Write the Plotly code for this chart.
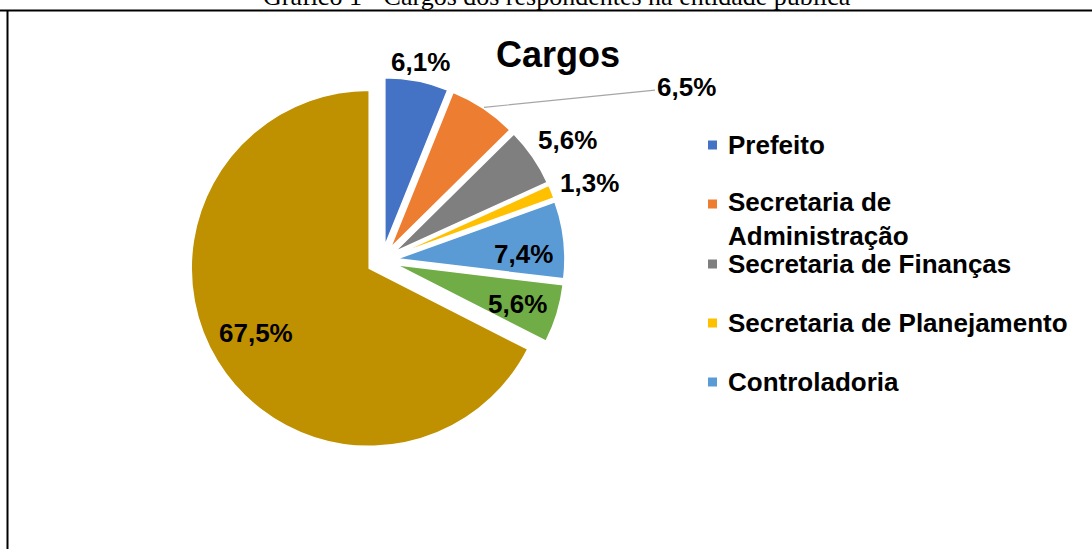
import math
import plotly.graph_objects as go

# ---- data ----
labels = ["Prefeito", "Secretaria de Administração", "Secretaria de Finanças",
          "Secretaria de Planejamento", "Controladoria", "Contabilidade", "Outros"]
values = [6.1, 6.5, 5.6, 1.3, 7.4, 5.6, 67.5]
colors = ["#4472C4", "#ED7D31", "#7F7F7F", "#FFC000", "#5B9BD5", "#70AD47", "#BF9000"]
legend_count = 5  # only the first five legend entries are visible in the source
title_text = "Cargos"
caption_text = "Gráfico 1 - Cargos dos respondentes na entidade pública"

W, H = 1092, 549
CX, CY = 382, 260.5        # pie centre (px)
EXPLODE = 15               # explosion distance (px)
R_BIG = 178                # radius of the large slice
R_SMALL = 168              # radius of the small slices
BIG = len(values) - 1

def px2paper(x, y):
    return x / W, 1 - y / H

fmt = lambda v: f"{v:.1f}".replace(".", ",") + "%"

def pie_layer(radius, visible_idx):
    pull = EXPLODE / radius
    half = radius * (1 + pull)
    cols = [colors[i] if i in visible_idx else "rgba(0,0,0,0)" for i in range(len(values))]
    lw = [1.5 if i in visible_idx else 0 for i in range(len(values))]
    return go.Pie(
        labels=labels, values=values, sort=False, direction="clockwise", rotation=0,
        marker=dict(colors=cols, line=dict(color="white", width=lw)),
        pull=[pull] * len(values), textinfo="none", hoverinfo="label+percent",
        showlegend=False,
        domain=dict(x=[(CX - half) / W, (CX + half) / W],
                    y=[1 - (CY + half) / H, 1 - (CY - half) / H]),
    )

fig = go.Figure()
fig.add_trace(pie_layer(R_BIG, {BIG}))
fig.add_trace(pie_layer(R_SMALL, set(range(BIG))))

annotations = []
shapes = []
lab_font = dict(family="Liberation Sans, Arial", size=26, color="black")

# data labels, placed along each slice's bisector (radius px, angle tweak deg)
radii = [204, None, 222, 222, 142, 142, 145]
tweak = [0, 0, 1.3, 1.3, 3.3, 0.2, 2.0]
total = sum(values)
cum = 0
for i, v in enumerate(values):
    mid = (cum + v / 2) / total * 2 * math.pi
    cum += v
    if radii[i] is None:
        # leader-line label
        rr = EXPLODE + R_SMALL + 1
        tx, ty = CX + rr * math.sin(mid), CY - rr * math.cos(mid)
        x, y = px2paper(tx, ty)
        annotations.append(dict(x=x, y=y, xref="paper", yref="paper", text="<b>" + fmt(v) + "</b>",
                                showarrow=True, arrowhead=0, arrowwidth=1.2, arrowcolor="#A6A6A6",
                                axref="pixel", ayref="pixel", ax=686 - tx, ay=87 - ty,
                                font=lab_font))
        continue
    a = mid + math.radians(tweak[i])
    px = CX + radii[i] * math.sin(a)
    py = CY - radii[i] * math.cos(a) + 1.5
    x, y = px2paper(px, py)
    annotations.append(dict(x=x, y=y, xref="paper", yref="paper", text="<b>" + fmt(v) + "</b>",
                            showarrow=False, xanchor="center", yanchor="middle", font=lab_font))

# title
x, y = px2paper(558, 54)
annotations.append(dict(x=x, y=y, xref="paper", yref="paper", text="<b>" + title_text + "</b>",
                        showarrow=False, xanchor="center", yanchor="middle",
                        font=dict(family="Liberation Sans, Arial", size=36, color="black")))

# caption (cut off at the top of the page, as in the source)
x, y = px2paper(557, -4)
annotations.append(dict(x=x, y=y, xref="paper", yref="paper", text=caption_text,
                        showarrow=False, xanchor="center", yanchor="middle",
                        font=dict(family="Liberation Serif, Times New Roman", size=26, color="black")))

# legend (manual)
legend_y = [145, 219, 264, 323, 382]
for i in range(legend_count):
    name = labels[i]
    if len(name) > 26:
        parts = name.split(" ")
        name = " ".join(parts[:2]) + "<br>" + " ".join(parts[2:])
    sy = legend_y[i] if "<br>" not in name else legend_y[i] - 15
    shapes.append(dict(type="rect", xref="paper", yref="paper",
                       x0=708 / W, x1=717 / W, y0=1 - (sy + 4.5) / H, y1=1 - (sy - 4.5) / H,
                       fillcolor=colors[i], line=dict(width=0)))
    x, y = px2paper(726, legend_y[i])
    annotations.append(dict(x=x, y=y, xref="paper", yref="paper", text="<b>" + name + "</b>",
                            showarrow=False, xanchor="left", yanchor="middle", align="left",
                            font=lab_font))

# frame lines
shapes.append(dict(type="line", xref="paper", yref="paper", x0=0, x1=1,
                   y0=1 - 10.5 / H, y1=1 - 10.5 / H, line=dict(color="black", width=2)))
shapes.append(dict(type="line", xref="paper", yref="paper", x0=7.5 / W, x1=7.5 / W,
                   y0=0, y1=1 - 10 / H, line=dict(color="black", width=2)))

fig.update_layout(
    width=W, height=H, margin=dict(l=0, r=0, t=0, b=0),
    paper_bgcolor="white", plot_bgcolor="white",
    annotations=annotations, shapes=shapes, showlegend=False,
)
fig.write_html("out.html")
